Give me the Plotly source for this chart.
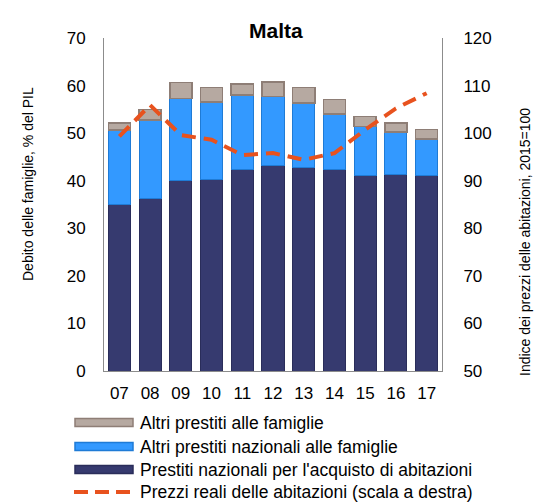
import plotly.graph_objects as go

# Household debt in Malta (% of GDP) and real house prices (2015=100)
anni = ["07", "08", "09", "10", "11", "12", "13", "14", "15", "16", "17"]
mutui_abitazioni = [35.0, 36.3, 40.0, 40.3, 42.4, 43.1, 42.8, 42.4, 41.0, 41.3, 41.0]
altri_nazionali = [15.7, 16.5, 17.3, 16.3, 15.6, 14.6, 13.5, 11.6, 10.4, 8.9, 7.8]
altri_prestiti = [1.4, 2.2, 3.3, 3.0, 2.3, 3.1, 3.3, 3.1, 2.1, 1.9, 2.0]
prezzi_reali = [99.3, 105.9, 99.6, 98.6, 95.4, 95.8, 94.4, 95.8, 100.7, 105.2, 108.4]

nomi = [
    "Altri prestiti alle famiglie",
    "Altri prestiti nazionali alle famiglie",
    "Prestiti nazionali per l'acquisto di abitazioni",
    "Prezzi reali delle abitazioni (scala a destra)",
]

C_DARK, C_DARK_EDGE = "#363A6F", "#2A2D5A"
C_BLUE, C_BLUE_EDGE = "#3399FF", "#1F7BD6"
C_GREY, C_GREY_EDGE = "#B6A9A1", "#8E7E76"
C_LINE = "#E8521E"

FONT = "Liberation Sans, Arial, sans-serif"
W, H = 534, 502
L, R, T, B = 104, 442, 38, 371  # plot area in pixels

fig = go.Figure()
fig.add_bar(x=anni, y=mutui_abitazioni, name=nomi[2],
            marker=dict(color=C_DARK, line=dict(color=C_DARK_EDGE, width=1)))
fig.add_bar(x=anni, y=altri_nazionali, name=nomi[1],
            marker=dict(color=C_BLUE, line=dict(color=C_BLUE_EDGE, width=1)))
fig.add_bar(x=anni, y=altri_prestiti, name=nomi[0],
            marker=dict(color=C_GREY, line=dict(color=C_GREY_EDGE, width=1.5)))
fig.add_scatter(x=anni, y=prezzi_reali, name=nomi[3], yaxis="y2", mode="lines",
                line=dict(color=C_LINE, width=4, dash="14px,8px"))

axis_common = dict(showgrid=False, zeroline=False, showline=True, linecolor="#8C8C8C",
                   linewidth=1, ticks="", tickfont=dict(size=17, color="#000", family=FONT))

fig.update_layout(
    width=W, height=H,
    margin=dict(l=L, r=W - R, t=T, b=H - B),
    paper_bgcolor="white", plot_bgcolor="white",
    barmode="stack", bargap=0.28,
    showlegend=False,
    font=dict(family=FONT, color="#000"),
    xaxis=dict(**axis_common, ticklabelstandoff=7),
    yaxis=dict(**axis_common, range=[0, 70], dtick=10, ticklabelstandoff=14),
    yaxis2=dict(**axis_common, range=[50, 120], dtick=10, overlaying="y", side="right",
                ticklabelstandoff=17),
)

def px_x(p):
    return (p - L) / (R - L)

def px_y(p):
    return (B - p) / (B - T)

# Title
fig.add_annotation(text="<b>Malta</b>", x=px_x(276), y=px_y(31), xref="paper", yref="paper",
                   showarrow=False, font=dict(size=21, family=FONT), xanchor="center", yanchor="middle")

# Axis titles
fig.add_annotation(text="Debito delle famiglie, % del PIL", x=px_x(28), y=px_y(184),
                   xref="paper", yref="paper", showarrow=False, textangle=-90,
                   font=dict(size=14, family=FONT), xanchor="center", yanchor="middle")
fig.add_annotation(text="Indice dei prezzi delle abitazioni, 2015=100", x=px_x(525), y=px_y(242),
                   xref="paper", yref="paper", showarrow=False, textangle=-90,
                   font=dict(size=14, family=FONT), xanchor="center", yanchor="middle")

# Legend drawn below the chart
righe = [422.5, 446.5, 469.5, 492]
riempimenti = [(C_GREY, C_GREY_EDGE), (C_BLUE, C_BLUE_EDGE), (C_DARK, C_DARK_EDGE)]
for (fc, ec), yy in zip(riempimenti, righe[:3]):
    fig.add_shape(type="rect", xref="paper", yref="paper",
                  x0=px_x(75), x1=px_x(133), y0=px_y(yy - 4), y1=px_y(yy + 4),
                  fillcolor=fc, line=dict(color=ec, width=1.5))
fig.add_shape(type="line", xref="paper", yref="paper",
              x0=px_x(74), x1=px_x(131), y0=px_y(righe[3]), y1=px_y(righe[3]),
              line=dict(color=C_LINE, width=4, dash="14px,7px"))
for nome, yy in zip(nomi, righe):
    fig.add_annotation(text=nome, x=px_x(138), y=px_y(yy), xref="paper", yref="paper",
                       showarrow=False, xanchor="left", yanchor="middle",
                       font=dict(size=17.5, family=FONT))

fig.write_html("out.html")
